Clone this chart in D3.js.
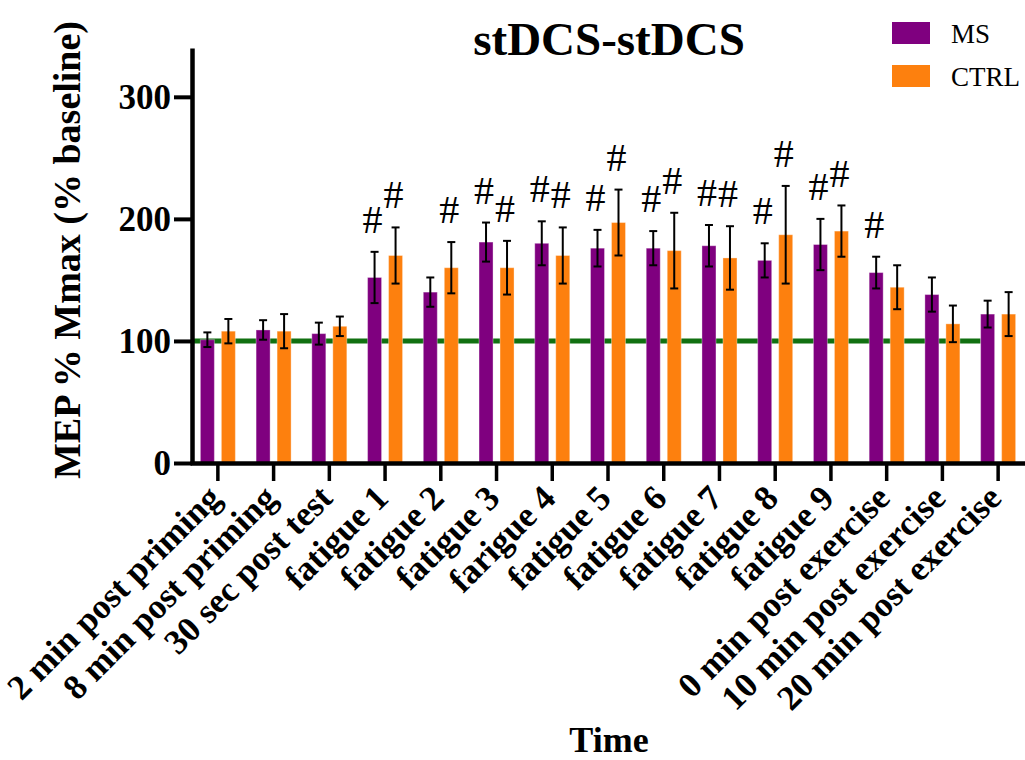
<!DOCTYPE html>
<html>
<head>
<meta charset="utf-8">
<script src="https://cdn.jsdelivr.net/npm/d3@7"></script>
<style>
    body { margin: 0; background: #fff; }
    text { font-family: "Liberation Serif", "Times New Roman", serif; }
</style>
</head>
<body>
<div id="chart"></div>
<script>
// values
var categories = ["2 min post priming", "8 min post priming", "30 sec post test", "fatigue 1", "fatigue 2",
    "fatigue 3", "farigue 4", "fatigue 5", "fatigue 6", "fatigue 7", "fatigue 8", "fatigue 9",
    "0 min post exercise", "10 min post exercise", "20 min post exercise"];
var groups = ["MS", "CTRL"];
var msMean = [101, 109, 106, 152, 140, 181, 180, 176, 176, 178, 166, 179, 156, 138, 122];
var msErr = [6, 8, 9, 21, 12, 16, 18, 15, 14, 17, 14, 21, 13, 14, 11];
var ctrlMean = [108, 108, 112, 170, 160, 160, 170, 197, 174, 168, 187, 190, 144, 114, 122];
var ctrlErr = [10, 14, 8, 23, 21, 22, 23, 27, 31, 26, 40, 21, 18, 15, 18];
// # marks (significant vs baseline), 1 = marked
var msHash = [0, 0, 0, 1, 0, 1, 1, 1, 1, 1, 1, 1, 1, 0, 0];
var ctrlHash = [0, 0, 0, 1, 1, 1, 1, 1, 1, 1, 1, 1, 0, 0, 0];
var yTicks = [0, 100, 200, 300];
var baseline = 100;

var colors = { MS: "#7f007f", CTRL: "#fd800e" };

var W = 1025, H = 760;
var svg = d3.select("#chart").append("svg")
    .attr("width", W)
    .attr("height", H);

var x = d3.scaleBand().domain(categories).range([190, 1026]);
var xs = d3.scaleBand().domain(groups).range([-17.5, 17.5]).paddingInner(1 / 3);
var y = d3.scaleLinear().domain([0, 340]).range([463, 48]);

// flatten into one row per bar
var bars = [];
categories.forEach(function (c, i) {
    bars.push({ cat: c, group: "MS", mean: msMean[i], err: msErr[i], hash: msHash[i] });
    bars.push({ cat: c, group: "CTRL", mean: ctrlMean[i], err: ctrlErr[i], hash: ctrlHash[i] });
});
function cx(d) { return x(d.cat) + x.bandwidth() / 2 + xs(d.group) + xs.bandwidth() / 2; }

// baseline line, behind the bars, stops at the last group
var lastBar = x(categories[categories.length - 1]) + x.bandwidth() / 2 + xs("MS");
svg.append("line")
    .attr("x1", 192).attr("x2", lastBar)
    .attr("y1", y(baseline)).attr("y2", y(baseline))
    .style("stroke", "#117011")
    .style("stroke-width", 5);

svg.selectAll(".bar")
    .data(bars)
    .enter().append("rect")
    .attr("class", "bar")
    .attr("x", function (d) { return x(d.cat) + x.bandwidth() / 2 + xs(d.group); })
    .attr("y", function (d) { return y(d.mean); })
    .attr("width", xs.bandwidth())
    .attr("height", function (d) { return y(0) - y(d.mean); })
    .style("fill", function (d) { return colors[d.group]; })
    .style("stroke", "#fff")
    .style("stroke-opacity", 0.35)
    .style("stroke-width", 1);

// error bars
var eb = svg.selectAll(".err")
    .data(bars)
    .enter().append("g")
    .attr("class", "err")
    .style("stroke", "#000")
    .style("stroke-width", 2);
eb.append("line")
    .attr("x1", cx).attr("x2", cx)
    .attr("y1", function (d) { return y(d.mean - d.err); })
    .attr("y2", function (d) { return y(d.mean + d.err); });
eb.append("line")
    .attr("x1", function (d) { return cx(d) - 4; })
    .attr("x2", function (d) { return cx(d) + 4; })
    .attr("y1", function (d) { return y(d.mean + d.err); })
    .attr("y2", function (d) { return y(d.mean + d.err); });
eb.append("line")
    .attr("x1", function (d) { return cx(d) - 4; })
    .attr("x2", function (d) { return cx(d) + 4; })
    .attr("y1", function (d) { return y(d.mean - d.err); })
    .attr("y2", function (d) { return y(d.mean - d.err); });

// # marks above error bars
svg.selectAll(".hash")
    .data(bars.filter(function (d) { return d.hash; }))
    .enter().append("text")
    .attr("class", "hash")
    .attr("x", function (d) { return cx(d) - 2; })
    .attr("y", function (d) { return y(d.mean + d.err + 27); })
    .attr("dy", "0.35em")
    .attr("text-anchor", "middle")
    .style("font-size", "40px")
    .text("#");

// axes
var yAxis = svg.append("g")
    .attr("transform", "translate(192,0)")
    .call(d3.axisLeft(y).tickValues(yTicks).tickSize(18).tickSizeOuter(0).tickPadding(3));
yAxis.select(".domain").style("stroke-width", 4.5);
yAxis.selectAll(".tick line").style("stroke-width", 4);
yAxis.selectAll(".tick text")
    .style("font-size", "35px")
    .style("font-weight", "bold")
    .attr("dy", "0.34em");

var xAxis = svg.append("g")
    .attr("transform", "translate(0," + y(0) + ")")
    .call(d3.axisBottom(x).tickSize(18).tickSizeOuter(0));
xAxis.select(".domain").style("stroke-width", 4.5);
xAxis.selectAll(".tick line").style("stroke-width", 3.5);
xAxis.selectAll(".tick text")
    .attr("x", 0).attr("y", 0).attr("dy", 0)
    .attr("transform", "translate(5,37) rotate(-45)")
    .attr("text-anchor", "end")
    .style("font-size", "35px")
    .style("font-weight", "bold");

// titles
svg.append("text")
    .attr("x", 609).attr("y", 55)
    .attr("text-anchor", "middle")
    .style("font-size", "47px")
    .style("font-weight", "bold")
    .text("stDCS-stDCS");

svg.append("text")
    .attr("x", 609).attr("y", 752)
    .attr("text-anchor", "middle")
    .style("font-size", "36px")
    .style("font-weight", "bold")
    .text("Time");

svg.append("text")
    .attr("transform", "translate(80,250) rotate(-90)")
    .attr("text-anchor", "middle")
    .style("font-size", "38px")
    .style("font-weight", "bold")
    .text("MEP % Mmax (% baseline)");

// legend
var legend = svg.selectAll(".legend")
    .data(groups)
    .enter().append("g")
    .attr("class", "legend")
    .attr("transform", function (d, i) { return "translate(892," + (22 + i * 43) + ")"; });
legend.append("rect")
    .attr("width", 38).attr("height", 22)
    .style("fill", function (d) { return colors[d]; });
legend.append("text")
    .attr("x", 59).attr("y", 21)
    .style("font-size", "27px")
    .text(function (d) { return d; });
</script>
</body>
</html>
